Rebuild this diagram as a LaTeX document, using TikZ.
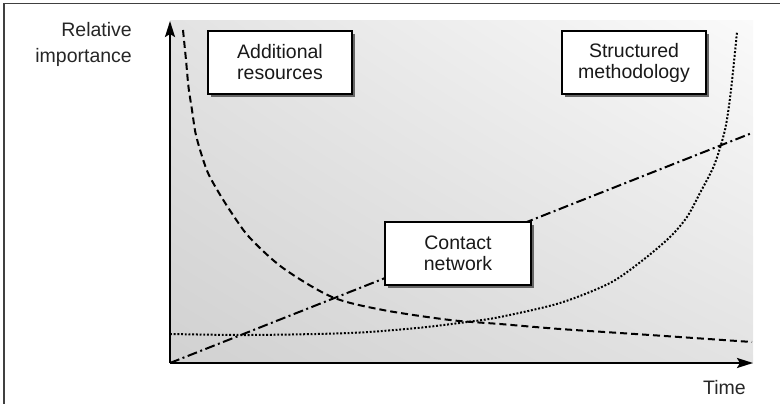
\documentclass[tikz,border=0pt]{standalone}
\usepackage{fontspec}
\setmainfont{Liberation Sans}
\usetikzlibrary{arrows.meta,shadows,shadings}
\begin{document}
\begin{tikzpicture}[x=1pt,y=-1pt,
  lbl/.style={font=\fontsize{19.5}{26}\selectfont, text=black!85, inner sep=0pt, align=right},
  box/.style={draw, fill=white, line width=1.1pt, text=black!90,
    font=\fontsize{19.5}{21}\selectfont, align=center,
    minimum height=63pt, inner sep=0pt,
    drop shadow={shadow xshift=3pt, shadow yshift=-3pt, fill=black!60, opacity=1}},
  axis/.style={line width=2.2pt, -{Stealth[length=16pt,width=10pt,inset=3pt]}},
  resources/.style={line width=2pt, dash pattern=on 7pt off 4pt},
  method/.style={line width=2pt, dash pattern=on 1.9pt off 1.8pt},
  contact/.style={line width=2pt, dash pattern=on 10pt off 3.5pt on 2pt off 3.5pt}
]
\useasboundingbox (0,0) rectangle (780,404);
% frame
\draw[black!75, line width=1.5pt] (4,404) -- (4,3.5) -- (780,3.5);
% shaded plot area
\shade[upper left=black!11, upper right=black!2, lower left=black!18, lower right=black!11]
  (170,21) rectangle (753,363);
% axes
\coordinate (origin) at (170,363);
\coordinate (ytip) at (170,21);
\coordinate (xtip) at (753,363);
% curves
\draw[resources] plot[smooth, tension=0.5] coordinates {
  (183,30) (186,60) (188.5,87) (192,110) (195.5,133) (201,153) (208,173) (219,193)
  (233,215) (250,238) (283,268) (332,297) (383,310) (450,320) (500,324)
  (560,329) (650,335) (752,342)};
\draw[method] plot[smooth, tension=0.5] coordinates {
  (170,334) (250,335) (350,333) (417,328) (467,322) (500,317) (560,303)
  (610,283) (643,260) (670,237) (687,217) (700,193) (713,168) (720,148)
  (726,125) (731,90) (737,32)};
\draw[contact] (origin) -- (752,133);
\draw[axis] (origin) -- (ytip);
\draw[axis] (origin) -- (xtip);
% labels
\node[lbl, anchor=base east] (ylabel1) at (132,37) {Relative};
\node[lbl, anchor=base east] (ylabel2) at (132,63) {importance};
\node[lbl, anchor=base east] (xlabel) at (746,394) {Time};
% boxes
\node[box, minimum width=144pt] (additional) at (280,62.5) {Additional\\resources};
\node[box, minimum width=144pt] (structured) at (634,62.5) {Structured\\methodology};
\node[box, minimum width=146pt] (contactbox) at (458,253.5) {Contact\\network};
\end{tikzpicture}
\end{document}
